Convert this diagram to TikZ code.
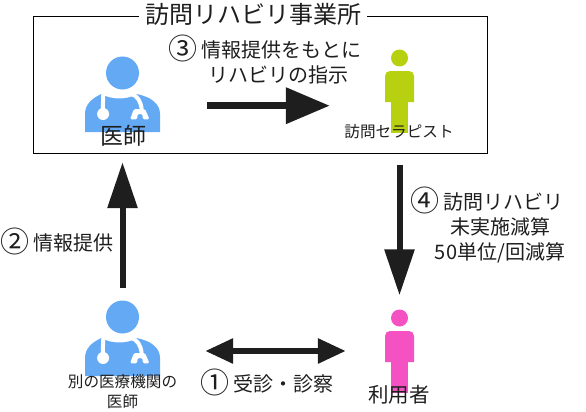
\documentclass[tikz,border=0pt]{standalone}
\usepackage{fontspec}
\setmainfont{Noto Sans CJK JP}
\usepackage{xcolor}
\usetikzlibrary{arrows.meta, positioning}

\definecolor{doctorblue}{HTML}{64A9F4}
\definecolor{staffgreen}{HTML}{B7D010}
\definecolor{userpink}{HTML}{F452C3}
\definecolor{arrowgray}{HTML}{1E1E1E}

\newcommand{\maru}[1]{{\fontsize{29}{25}\selectfont\smash{\raisebox{-1.5pt}{#1}}}}

\tikzset{
    iconbox/.style={inner sep=0pt, minimum width=#1},
    doctorbox/.style={iconbox=75pt, minimum height=76pt},
    personbox/.style={iconbox=29pt, minimum height=84pt},
    label/.style={inner sep=0pt, text=arrowgray, align=center, font=\fontsize{#1}{25}\selectfont},
    bigarrow/.style={line width=6pt, color=arrowgray, -{Triangle[length=46pt, width=29pt]}},
    widearrow/.style={line width=7pt, color=arrowgray, -{Triangle[length=44pt, width=35pt]}},
    bothways/.style={line width=6pt, color=arrowgray, {Triangle[length=28pt, width=24pt]}-{Triangle[length=28pt, width=24pt]}},
    pics/doctoricon/.style={code={
        \fill[doctorblue] (0,-21) circle (16.5pt);
        \fill[doctorblue] (-37.5,38) -- (-37.5,20) .. controls (-37.5,10) and (-30,4) .. (-21,0)
            .. controls (-12,6) and (6,6) .. (14,0) .. controls (29,3) and (37.5,10) .. (37.5,20) -- (37.5,38) -- cycle;
        \draw[white, line width=4pt] (-19.2,0) -- (-19.8,16);
        \fill[white] (-19.4,20) circle (6pt);
        \draw[white, line width=4pt] (9,0) .. controls (15,2) and (18,7) .. (19.2,15);
        \fill[white, rounded corners=1.5pt] (11.5,15) -- (22.5,15) -- (27,25.3) -- (20.2,25.3) -- (20.2,20)
            -- (14.8,20) -- (14.8,25.3) -- (7.5,25.3) -- cycle;
    }},
    pics/personicon/.style={code={
        \fill[#1] (0,-33) circle (8.5pt);
        \fill[#1] (-14.5,11) [rounded corners=5pt] -- (-14.5,-20) -- (14.5,-20) [sharp corners] -- (14.5,11) -- cycle;
        \fill[#1] (-8.5,5) rectangle (8.5,42);
    }},
}

\begin{document}
\begin{tikzpicture}[x=1pt, y=-1pt]
    \useasboundingbox (0,0) rectangle (586,412);

    % Office frame
    \node[draw=black, line width=1pt, inner sep=0pt, minimum width=454pt, minimum height=136pt] (office) at (260,85) {};
    \node[label=24, fill=white, inner xsep=6pt, inner ysep=1pt] (officename) at (253,14) {訪問リハビリ事業所};

    % Icons
    \node[doctorbox] (doctorA) at (122.5,94) {};
    \node[doctorbox] (doctorB) at (122.5,338) {};
    \node[personbox] (therapist) at (399.5,91) {};
    \node[personbox] (patient) at (399.5,351) {};
    \foreach \who in {doctorA, doctorB} {
        \pic at (\who) {doctoricon};
    }
    \pic at (therapist) {personicon=staffgreen};
    \pic at (patient) {personicon=userpink};

    % Names
    \node[label=23] (doctorAname) at (123,136) {医師};
    \node[label=15.6, font=\fontsize{15.6}{20}\selectfont] (doctorBname) at (122.5,392) {別の医療機関の\\医師};
    \node[label=15.6] (therapistname) at (399,132) {訪問セラピスト};
    \node[label=20.5] (patientname) at (399,395) {利用者};

    % Arrows
    \draw[bothways, shorten <=45pt, shorten >=39pt] ([yshift=-13pt]doctorB.east) -- (patient.west);
    \draw[bigarrow, shorten <=12pt, shorten >=30pt] (doctorB.north) -- (doctorA.south);
    \draw[widearrow, shorten <=47pt, shorten >=55pt] ([yshift=-11.7pt]doctorA.east) -- ([yshift=-14.7pt]therapist.west);
    \draw[bigarrow, shorten <=32pt, shorten >=13.5pt] (therapist.south) -- (patient.north);

    % Step labels
    \node[label=20] (stepone) at (267,384) {\maru{①} 受診・診察};
    \node[label=20] (steptwo) at (57,243) {\maru{②} 情報提供};
    \node[label=20] (stepthree) at (278,62.5) {\maru{③} 情報提供をもとに\hspace*{26pt}\\リハビリの指示};
    \node[label=20] (stepfour) at (500,228) {\maru{④} 訪問リハビリ\hspace*{26pt}\\未実施減算\\50単位/回減算};
\end{tikzpicture}
\end{document}
